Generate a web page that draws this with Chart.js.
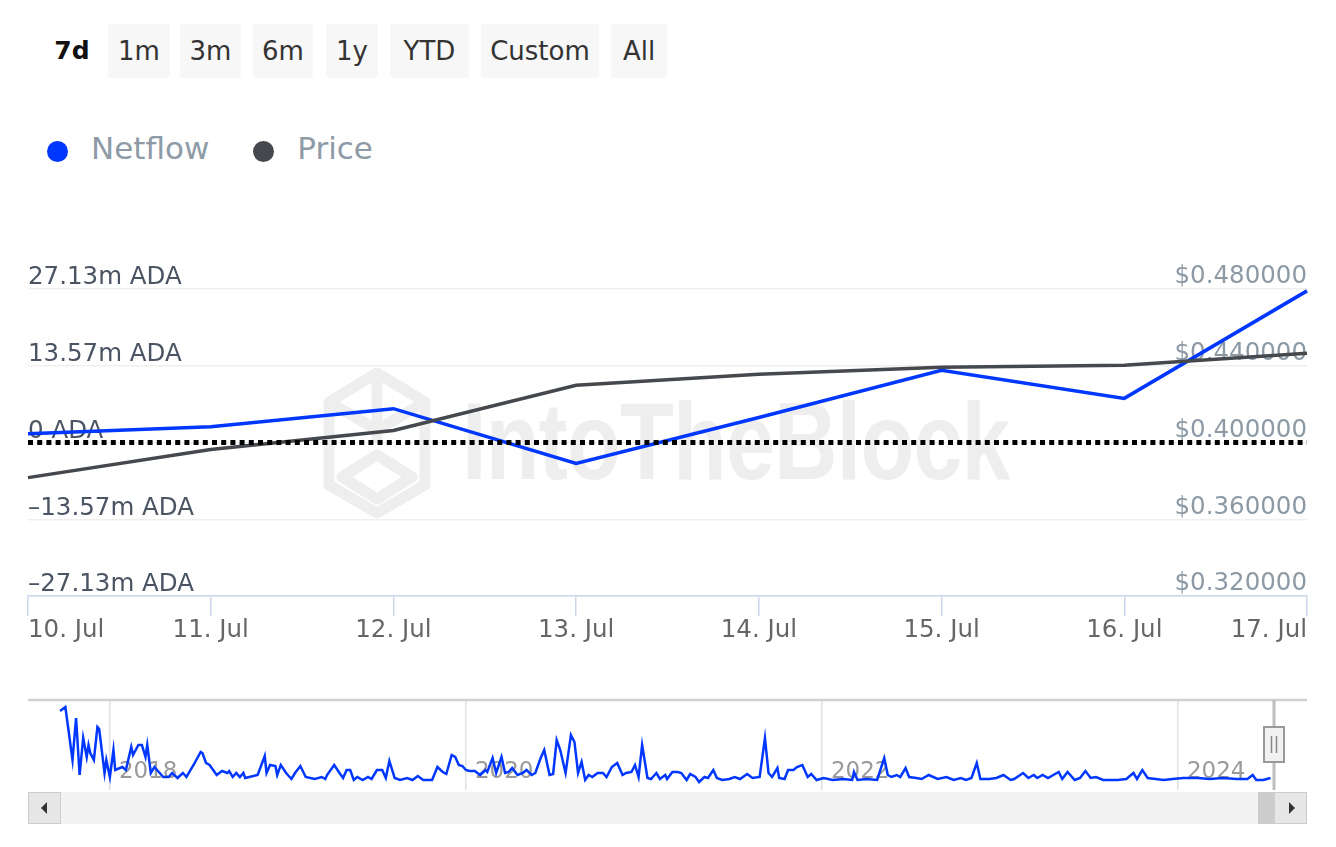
<!DOCTYPE html>
<html lang="en">
<head>
  <meta charset="UTF-8">
  <title>ADA Netflow vs Price</title>
  <script src="https://cdn.jsdelivr.net/npm/chart.js"></script>
  <style>
    body {
      margin: 0;
      background: #fff;
      font-family: 'DejaVu Sans', sans-serif;
    }
    .page {
      position: relative;
      width: 1336px;
      height: 847px;
      overflow: hidden;
    }
    .btn {
      position: absolute;
      top: 24px;
      height: 54px;
      line-height: 54px;
      text-align: center;
      font-size: 26px;
      color: #333;
      background: #f7f7f7;
      border-radius: 3px;
    }
    .btn.active {
      background: none;
      font-weight: bold;
      color: #111;
      font-size: 25px;
    }
    .legend {
      position: absolute;
      top: 130px;
      left: 47px;
      font-size: 31px;
      color: #8e9ba7;
      display: flex;
      align-items: center;
    }
    .legend .dot {
      display: inline-block;
      width: 21px;
      height: 21px;
      border-radius: 50%;
      margin-right: 23px;
      margin-top: 6px;
    }
    .legend .item {
      display: flex;
      align-items: center;
      margin-right: 44px;
    }
    .watermark {
      position: absolute;
      left: 322px;
      top: 365px;
      width: 760px;
      height: 160px;
    }
    .watermark span {
      position: absolute;
      left: 140px;
      top: 21px;
      font-family: 'Liberation Sans', sans-serif;
      font-weight: bold;
      font-size: 110px;
      line-height: 110px;
      color: #eeeeee;
      letter-spacing: -1px;
      transform: scaleX(0.8);
      transform-origin: left top;
      white-space: nowrap;
    }
    #mainChart {
      position: absolute;
      left: 0;
      top: 230px;
    }
    #navChart {
      position: absolute;
      left: 0;
      top: 690px;
    }
    .scrollbar {
      position: absolute;
      left: 28px;
      top: 792px;
      width: 1279px;
      height: 32px;
      background: #f2f2f2;
    }
    .sb-btn {
      position: absolute;
      top: 0;
      width: 31px;
      height: 30px;
      background: #e6e6e6;
      border: 1px solid #cccccc;
    }
    .sb-btn.left { left: 0; }
    .sb-btn.right { right: 0; }
    .sb-btn::after {
      content: '';
      position: absolute;
      top: 9px;
      border-top: 6px solid transparent;
      border-bottom: 6px solid transparent;
    }
    .sb-btn.left::after { left: 12px; border-right: 6px solid #333; }
    .sb-btn.right::after { left: 14px; border-left: 6px solid #333; }
    .sb-thumb {
      position: absolute;
      top: 0;
      left: 1230px;
      width: 17px;
      height: 32px;
      background: #cccccc;
    }
  </style>
</head>
<body>
<div class="page">
  <div class="btn active" style="left:48px;width:48px;">7d</div>
  <div class="btn" style="left:108px;width:62px;">1m</div>
  <div class="btn" style="left:180px;width:61px;">3m</div>
  <div class="btn" style="left:253px;width:60px;">6m</div>
  <div class="btn" style="left:326px;width:52px;">1y</div>
  <div class="btn" style="left:390px;width:79px;">YTD</div>
  <div class="btn" style="left:481px;width:118px;">Custom</div>
  <div class="btn" style="left:611px;width:56px;">All</div>

  <div class="legend">
    <div class="item"><span class="dot" style="background:#0037ff;"></span>Netflow</div>
    <div class="item"><span class="dot" style="background:#45494d;"></span>Price</div>
  </div>

  <div class="watermark">
    <svg width="120" height="160" viewBox="0 0 120 160">
      <g fill="none" stroke="#eeeeee" stroke-width="11" stroke-linejoin="round">
        <polygon points="55,8 103,37 103,120 55,148 7,120 7,37"/>
        <polyline points="55,8 55,78"/>
        <polyline points="7,37 55,65 103,37"/>
        <polygon points="55,90 90,112 55,134 20,112"/>
      </g>
    </svg>
    <span>IntoTheBlock</span>
  </div>

  <canvas id="mainChart" width="1336" height="430"></canvas>
  <canvas id="navChart" width="1336" height="102"></canvas>

  <div class="scrollbar">
    <div class="sb-btn left"></div>
    <div class="sb-thumb"></div>
    <div class="sb-btn right"></div>
  </div>
</div>

<script>
  // 7 day view
  const days = ['10. Jul', '11. Jul', '12. Jul', '13. Jul', '14. Jul', '15. Jul', '16. Jul', '17. Jul'];
  const netflow = [1.54, 2.78, 5.98, -3.72, 4.43, 12.77, 7.80, 26.80];   // m ADA
  const price = [0.3817, 0.3963, 0.4063, 0.4298, 0.4356, 0.4392, 0.4403, 0.4465];
  const zeroLine = [0, 0, 0, 0, 0, 0, 0, 0];
  const netTicks = [-27.13, -13.57, 0, 13.57, 27.13];
  const priceTicks = [0.32, 0.36, 0.40, 0.44, 0.48];

  // navigator (whole history, relative size)
  const navYears = [
    2017.72, 2017.75, 2017.79, 2017.81, 2017.83, 2017.85, 2017.87, 2017.88, 2017.89, 2017.91,
    2017.93, 2017.94, 2017.97, 2017.98, 2018.00, 2018.02, 2018.03, 2018.07, 2018.09, 2018.12,
    2018.13, 2018.16, 2018.18, 2018.20, 2018.21, 2018.23, 2018.25, 2018.28, 2018.30, 2018.33,
    2018.35, 2018.38, 2018.41, 2018.43, 2018.47, 2018.51, 2018.52, 2018.54, 2018.56, 2018.60,
    2018.63, 2018.66, 2018.67, 2018.69, 2018.71, 2018.73, 2018.75, 2018.76, 2018.83, 2018.87,
    2018.88, 2018.90, 2018.93, 2018.94, 2018.96, 2018.99, 2019.02, 2019.04, 2019.07, 2019.10,
    2019.15, 2019.19, 2019.21, 2019.22, 2019.26, 2019.29, 2019.31, 2019.33, 2019.35, 2019.37,
    2019.39, 2019.42, 2019.45, 2019.47, 2019.50, 2019.53, 2019.55, 2019.57, 2019.60, 2019.63,
    2019.67, 2019.70, 2019.73, 2019.76, 2019.81, 2019.84, 2019.87, 2019.89, 2019.92, 2019.94,
    2019.96, 2019.98, 2020.00, 2020.02, 2020.05, 2020.08, 2020.11, 2020.12, 2020.15, 2020.17,
    2020.20, 2020.22, 2020.24, 2020.26, 2020.29, 2020.32, 2020.34, 2020.37, 2020.39, 2020.42,
    2020.44, 2020.47, 2020.49, 2020.51, 2020.53, 2020.56, 2020.59, 2020.61, 2020.63, 2020.65,
    2020.67, 2020.69, 2020.71, 2020.74, 2020.77, 2020.79, 2020.82, 2020.85, 2020.88, 2020.90,
    2020.93, 2020.95, 2020.97, 2020.99, 2021.02, 2021.04, 2021.07, 2021.09, 2021.12, 2021.13,
    2021.16, 2021.19, 2021.21, 2021.24, 2021.26, 2021.29, 2021.31, 2021.34, 2021.36, 2021.39,
    2021.41, 2021.44, 2021.48, 2021.51, 2021.54, 2021.58, 2021.61, 2021.65, 2021.68, 2021.70,
    2021.72, 2021.75, 2021.76, 2021.79, 2021.81, 2021.84, 2021.86, 2021.89, 2021.92, 2021.94,
    2021.97, 2022.01, 2022.06, 2022.12, 2022.17, 2022.18, 2022.20, 2022.25, 2022.31, 2022.35,
    2022.37, 2022.39, 2022.42, 2022.44, 2022.47, 2022.49, 2022.53, 2022.56, 2022.60, 2022.65,
    2022.70, 2022.74, 2022.78, 2022.81, 2022.84, 2022.87, 2022.89, 2022.94, 2022.98, 2023.02,
    2023.06, 2023.08, 2023.13, 2023.16, 2023.19, 2023.21, 2023.24, 2023.27, 2023.30, 2023.33,
    2023.35, 2023.38, 2023.42, 2023.45, 2023.48, 2023.51, 2023.54, 2023.58, 2023.66, 2023.71,
    2023.75, 2023.77, 2023.80, 2023.83, 2023.92, 2023.97, 2024.03, 2024.11, 2024.18, 2024.25,
    2024.33, 2024.39, 2024.42, 2024.44, 2024.48, 2024.52
  ];
  const navValues = [
    69, 73, 20, 62, 5, 42, 23, 35, 27, 20,
    53, 51, 7, 20, 3, 30, 10, 13, 10, 33,
    25, 35, 35, 23, 35, 7, 13, 7, 3, 3,
    7, 2, 7, 3, 15, 28, 27, 17, 15, 5,
    9, 7, 9, 3, 7, 3, 7, 2, 5, 24,
    7, 15, 14, 5, 15, 7, 1, 7, 14, 3,
    1, 3, 1, 5, 15, 7, 2, 10, 10, 0,
    3, 0, 3, 1, 10, 10, 2, 19, 2, 0,
    2, 0, 4, 0, 0, 13, 8, 6, 25, 23,
    15, 14, 10, 9, 9, 5, 10, 8, 22, 7,
    23, 7, 8, 12, 5, 7, 10, 5, 7, 22,
    30, 5, 6, 40, 30, 7, 45, 38, 7, 18,
    0, 5, 3, 7, 7, 3, 13, 17, 5, 7,
    8, 15, 3, 35, 2, 1, 7, 1, 5, 1,
    8, 8, 7, 0, 6, 3, -2, 3, 2, 10,
    2, 0, 1, 3, 1, 6, 2, 3, 42, 7,
    3, 12, 2, 1, 10, 10, 13, 15, 3, 6,
    0, 2, 0, 1, 0, 8, 0, 1, 0, 22,
    5, 3, 5, 3, 12, 3, 2, 1, 5, 1,
    3, 0, 2, 0, 2, 17, 1, 1, 2, 5,
    0, 1, 7, 2, 5, 2, 5, 2, 5, 8,
    1, 8, 0, 2, 9, 2, 3, 0, 0, 1,
    7, 1, 10, 2, 0, 1, 2, 2, 1, 2,
    1, 1, 5, 0, 0, 2
  ];
  const navYearTicks = [2018, 2020, 2022, 2024];
  const navRangeEnd = 2024.54;

  const blue = '#0037ff';
  const grey = '#45494d';

  Chart.defaults.font.family = "'DejaVu Sans', sans-serif";
  Chart.defaults.animation = false;

  const fmtNet = v => v === 0 ? '0 ADA' : (v < 0 ? '\u2013' : '') + Math.abs(v).toFixed(2) + 'm ADA';

  new Chart(document.getElementById('mainChart'), {
    type: 'line',
    data: {
      labels: days,
      datasets: [
        {
          label: 'Zero',
          data: zeroLine,
          yAxisID: 'yNet',
          borderColor: '#000',
          borderWidth: 5,
          borderDash: [5, 4.2],
          borderCapStyle: 'butt',
          pointRadius: 0,
          order: 0
        },
        {
          label: 'Price',
          data: price,
          yAxisID: 'yPrice',
          borderColor: grey,
          borderWidth: 3.5,
          pointRadius: 0,
          tension: 0,
          order: 1
        },
        {
          label: 'Netflow',
          data: netflow,
          yAxisID: 'yNet',
          borderColor: blue,
          borderWidth: 3.5,
          pointRadius: 0,
          tension: 0,
          order: 2
        }
      ]
    },
    options: {
      responsive: false,
      layout: { padding: { left: 28, right: 29, top: 59, bottom: 14.6 } },
      plugins: { legend: { display: false }, tooltip: { enabled: false } },
      scales: {
        x: {
          offset: false,
          grid: { drawOnChartArea: false, tickLength: 20, color: '#ccd6eb', lineWidth: 1.5 },
          border: { color: '#ccd6eb', width: 1.5 },
          ticks: { align: 'inner', padding: 0, color: '#666', font: { size: 24.5 }, maxRotation: 0, autoSkip: false }
        },
        yNet: {
          position: 'left',
          min: -27.13,
          max: 27.13,
          afterBuildTicks: s => { s.ticks = netTicks.map(v => ({ value: v })); },
          grid: { color: '#efefef', lineWidth: 1.5, drawTicks: false },
          border: { display: false },
          ticks: {
            mirror: true, padding: 0, labelOffset: -11,
            color: '#4a5462', font: { size: 24.5 },
            callback: v => fmtNet(v)
          }
        },
        yPrice: {
          position: 'right',
          min: 0.32,
          max: 0.48,
          afterBuildTicks: s => { s.ticks = priceTicks.map(v => ({ value: v })); },
          grid: { drawOnChartArea: false, drawTicks: false },
          border: { display: false },
          ticks: {
            mirror: true, padding: 0, labelOffset: -12,
            color: '#8d9aa5', font: { size: 24.5 },
            callback: v => '$' + v.toFixed(6)
          }
        }
      }
    }
  });

  // navigator extras: top line, year labels, range handle
  const navDecor = {
    id: 'navDecor',
    beforeDatasetsDraw(chart) {
      const { ctx, chartArea: a, scales: { x } } = chart;
      ctx.save();
      ctx.strokeStyle = '#d0d0d0';
      ctx.lineWidth = 2.5;
      ctx.beginPath();
      ctx.moveTo(a.left, a.top);
      ctx.lineTo(a.right, a.top);
      ctx.stroke();
      ctx.fillStyle = '#9a9a9a';
      ctx.font = "23px 'DejaVu Sans'";
      ctx.textBaseline = 'middle';
      navYearTicks.forEach(yr => {
        ctx.fillText(String(yr), x.getPixelForValue(yr) + 9, a.bottom - 18);
      });
      ctx.restore();
    },
    afterDatasetsDraw(chart) {
      const { ctx, chartArea: a, scales: { x } } = chart;
      const px = Math.round(x.getPixelForValue(navRangeEnd));
      ctx.save();
      ctx.strokeStyle = '#bdbdbd';
      ctx.lineWidth = 3;
      ctx.beginPath();
      ctx.moveTo(px, a.top);
      ctx.lineTo(px, a.bottom);
      ctx.stroke();
      ctx.fillStyle = '#f2f2f2';
      ctx.strokeStyle = '#999';
      ctx.lineWidth = 2;
      ctx.fillRect(px - 10, a.top + 27, 20, 35);
      ctx.strokeRect(px - 10, a.top + 27, 20, 35);
      ctx.strokeStyle = '#888';
      ctx.lineWidth = 1.5;
      ctx.beginPath();
      ctx.moveTo(px - 2.5, a.top + 36); ctx.lineTo(px - 2.5, a.top + 53);
      ctx.moveTo(px + 2.5, a.top + 36); ctx.lineTo(px + 2.5, a.top + 53);
      ctx.stroke();
      ctx.restore();
    }
  };

  new Chart(document.getElementById('navChart'), {
    type: 'line',
    data: {
      datasets: [{
        data: navYears.map((yr, i) => ({ x: yr, y: navValues[i] })),
        borderColor: blue,
        borderWidth: 2.5,
        pointRadius: 0,
        tension: 0
      }]
    },
    options: {
      responsive: false,
      layout: { padding: { left: 28, right: 29, top: 10, bottom: 2 } },
      plugins: { legend: { display: false }, tooltip: { enabled: false } },
      scales: {
        x: {
          type: 'linear',
          min: 2017.54,
          max: 2024.725,
          afterBuildTicks: s => { s.ticks = navYearTicks.map(v => ({ value: v })); },
          grid: { color: '#e0e0e0', lineWidth: 1.5, drawTicks: false },
          border: { display: false },
          ticks: { display: false }
        },
        y: {
          display: false,
          min: -10,
          max: 80
        }
      }
    },
    plugins: [navDecor]
  });
</script>
</body>
</html>
